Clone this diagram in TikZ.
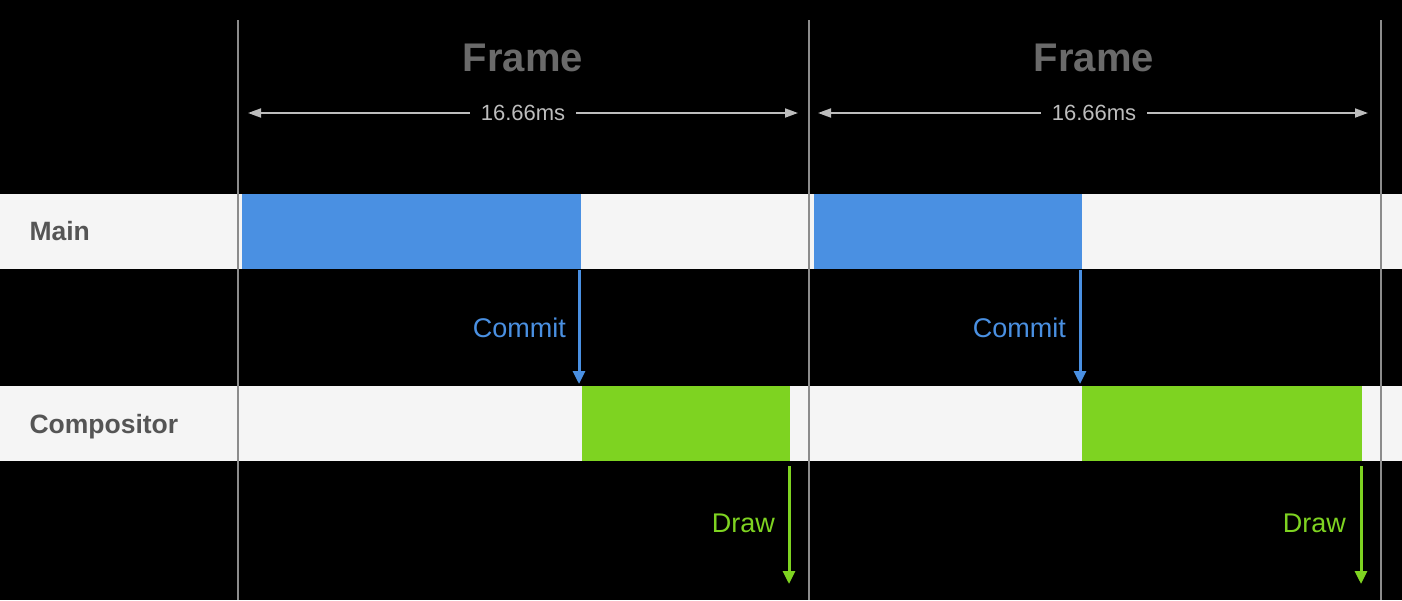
\documentclass[tikz,border=0pt]{standalone}
\usepackage{fontspec}
\setmainfont{Liberation Sans}
\usetikzlibrary{arrows.meta}
\definecolor{bluebar}{HTML}{4A90E2}
\definecolor{greenbar}{HTML}{7ED321}
\definecolor{bandcol}{HTML}{F5F5F5}
\definecolor{rowtext}{HTML}{555555}
\definecolor{frametext}{HTML}{6A6A6A}
\definecolor{dimcol}{HTML}{BDBDBD}
\definecolor{vlinecol}{HTML}{8C8C8C}
\tikzset{
  block/.style={anchor=north west, inner sep=0pt, outer sep=0pt, minimum height=75pt},
  mainblock/.style={block, fill=bluebar},
  compblock/.style={block, fill=greenbar},
  vline/.style={draw=vlinecol, line width=1.5pt},
  framelabel/.style={text=frametext, font=\fontsize{40}{44}\selectfont\bfseries},
  dimlabel/.style={text=dimcol, font=\fontsize{22}{26}\selectfont, inner xsep=11pt, inner ysep=2pt},
  dimarrow/.style={draw=dimcol, line width=1.8pt, -{Triangle[length=13pt,width=9pt]}},
  rowlabel/.style={text=rowtext, font=\fontsize{26.5}{30}\selectfont\bfseries, anchor=west},
  commitarrow/.style={draw=bluebar, line width=3pt, -{Triangle[length=13pt,width=12pt]}},
  drawarrow/.style={draw=greenbar, line width=3pt, -{Triangle[length=13pt,width=12pt]}},
  commitlabel/.style={text=bluebar, font=\fontsize{27}{30}\selectfont, anchor=east, inner sep=0pt},
  drawlabel/.style={text=greenbar, font=\fontsize{27}{30}\selectfont, anchor=east, inner sep=0pt}
}
\begin{document}
\begin{tikzpicture}[x=1pt,y=-1pt]
\fill[black] (0,0) rectangle (1402,600);
\useasboundingbox (0,0) rectangle (1402,600);
% row bands
\fill[bandcol] (0,194) rectangle (1402,269);
\fill[bandcol] (0,386) rectangle (1402,461);
% vertical frame lines
\draw[vline] (238,20) -- (238,600);
\draw[vline] (809,20) -- (809,600);
\draw[vline] (1381,20) -- (1381,600);
% blocks
\node[mainblock, minimum width=339pt] (m1) at (242,194) {};
\node[mainblock, minimum width=268pt] (m2) at (814,194) {};
\node[compblock, minimum width=208pt] (c1) at (582,386) {};
\node[compblock, minimum width=280pt] (c2) at (1082,386) {};
% row labels
\node[rowlabel] (lmain) at (26,231) {Main};
\node[rowlabel] (lcomp) at (26,427) {Compositor};
% frame titles
\node[framelabel] (f1) at (523,58) {Frame};
\node[framelabel] (f2) at (1094,58) {Frame};
% dimension arrows
\node[dimlabel] (d1) at (523,113) {16.66ms};
\node[dimlabel] (d2) at (1094,113) {16.66ms};
\coordinate (d1l) at (248,113);
\coordinate (d1r) at (798,113);
\coordinate (d2l) at (818,113);
\coordinate (d2r) at (1368,113);
\draw[dimarrow] (d1.west) -- (d1l);
\draw[dimarrow] (d1.east) -- (d1r);
\draw[dimarrow] (d2.west) -- (d2l);
\draw[dimarrow] (d2.east) -- (d2r);
% commit arrows
\coordinate (cm1s) at ([xshift=-2pt,yshift=-1pt]m1.south east);
\coordinate (cm2s) at ([xshift=-2pt,yshift=-1pt]m2.south east);
\draw[commitarrow] (cm1s) -- ([xshift=-3pt,yshift=2pt]c1.north west);
\draw[commitarrow] (cm2s) -- ([xshift=-2pt,yshift=2pt]c2.north west);
\node[commitlabel] (k1) at (566,328) {Commit};
\node[commitlabel] (k2) at (1066,328) {Commit};
% draw arrows
\coordinate (dr1e) at (789,584);
\coordinate (dr2e) at (1361,584);
\draw[drawarrow] ([xshift=-1pt,yshift=-5pt]c1.south east) -- (dr1e);
\draw[drawarrow] ([xshift=-1pt,yshift=-5pt]c2.south east) -- (dr2e);
\node[drawlabel] (w1) at (775,523) {Draw};
\node[drawlabel] (w2) at (1346,523) {Draw};
\end{tikzpicture}
\end{document}
